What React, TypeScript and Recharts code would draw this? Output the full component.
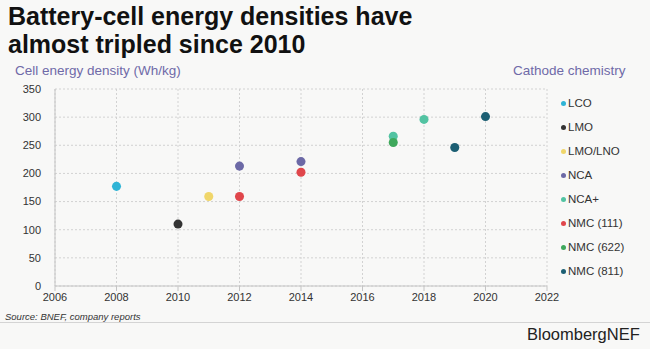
import React from "react";
import { ScatterChart, Scatter, XAxis, YAxis, ZAxis, CartesianGrid } from "recharts";

const seriesNames = ["LCO", "LMO", "LMO/LNO", "NCA", "NCA+", "NMC (111)", "NMC (622)", "NMC (811)"];
const seriesColors = ["#2fb4d6", "#333333", "#f0d66a", "#6c69a6", "#52c3a2", "#e0464b", "#3fa85c", "#1c5f73"];
const lcoData = [{ year: 2008, value: 177 }];
const lmoData = [{ year: 2010, value: 110 }];
const lmoLnoData = [{ year: 2011, value: 159 }];
const ncaData = [{ year: 2012, value: 213 }, { year: 2014, value: 221 }];
const ncaPlusData = [{ year: 2017, value: 266 }, { year: 2018, value: 296 }];
const nmc111Data = [{ year: 2012, value: 159 }, { year: 2014, value: 202 }];
const nmc622Data = [{ year: 2017, value: 255 }];
const nmc811Data = [{ year: 2019, value: 246 }, { year: 2020, value: 301 }];
const allData = [lcoData, lmoData, lmoLnoData, ncaData, ncaPlusData, nmc111Data, nmc622Data, nmc811Data];
const xTicks = [2006, 2008, 2010, 2012, 2014, 2016, 2018, 2020, 2022];
const yTicks = [0, 50, 100, 150, 200, 250, 300, 350];

const FONT = "'Liberation Sans', Arial, sans-serif";

export default function App() {
  return (
    <div style={{ position: "fixed", left: 0, top: 0, width: 650, height: 349, background: "#f8f8f7", fontFamily: FONT, overflow: "hidden" }}>
      <div style={{ position: "absolute", left: 8, top: 2, fontSize: 25, fontWeight: "bold", lineHeight: "28px", color: "#111" }}>
        Battery-cell energy densities have<br />almost tripled since 2010
      </div>
      <div style={{ position: "absolute", left: 15, top: 63, fontSize: 13.5, color: "#6f6aa8" }}>Cell energy density (Wh/kg)</div>
      <div style={{ position: "absolute", left: 513, top: 63, fontSize: 13.5, color: "#6f6aa8" }}>Cathode chemistry</div>
      <div style={{ position: "absolute", left: 5, top: 311, fontSize: 9.5, fontStyle: "italic", color: "#333" }}>Source: BNEF, company reports</div>
      <div style={{ position: "absolute", left: 0, top: 322, width: 650, height: 1, background: "#d4d4d4" }} />
      <div style={{ position: "absolute", left: 527, top: 325, fontSize: 16.5, color: "#222" }}>BloombergNEF</div>
      <div style={{ position: "absolute", left: 0, top: 0 }}>
        <ScatterChart width={650} height={349} margin={{ top: 89, right: 103, bottom: 33, left: 0 }}>
          <CartesianGrid stroke="#d2d2d2" strokeDasharray="2 2" />
          <XAxis type="number" dataKey="year" domain={[2006, 2022]} ticks={xTicks} height={30}
            tick={{ fill: "#333", fontSize: 11, fontFamily: FONT }} stroke="#c4c4c4" tickSize={5} />
          <YAxis type="number" dataKey="value" domain={[0, 350]} ticks={yTicks} width={55}
            tick={{ fill: "#333", fontSize: 11, fontFamily: FONT }} stroke="#c4c4c4" tickLine={false} tickMargin={8} />
          <ZAxis range={[32, 32]} />
          {seriesNames.map((n, i) => (
            <Scatter key={n} name={n} data={allData[i]} fill={seriesColors[i]} isAnimationActive={false} />
          ))}
        </ScatterChart>
      </div>
      <div style={{ position: "absolute", left: 561, top: 91, fontSize: 11.5, color: "#333" }}>
        {seriesNames.map((n, i) => (
          <div key={n} style={{ display: "flex", alignItems: "center", height: 24 }}>
            <span style={{ width: 5, height: 5, borderRadius: "50%", background: seriesColors[i], display: "inline-block", marginRight: 2 }} />
            <span>{n}</span>
          </div>
        ))}
      </div>
    </div>
  );
}
